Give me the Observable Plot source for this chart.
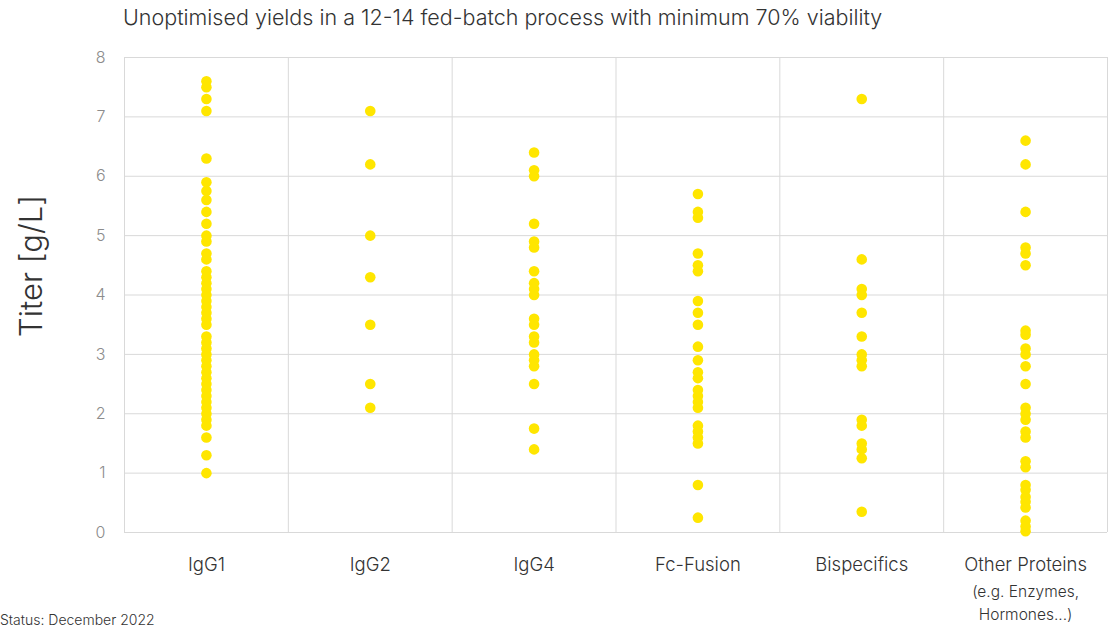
<!DOCTYPE html>
<html>
<head>
<meta charset="utf-8">
<script src="https://cdn.jsdelivr.net/npm/d3@7"></script>
<script src="https://cdn.jsdelivr.net/npm/@observablehq/plot@0.6"></script>
<style>
  html, body { margin: 0; padding: 0; background: #fff; overflow: hidden; }
  body { width: 1114px; height: 630px; position: relative; font-family: Inter, "Noto Sans", sans-serif; font-weight: 300; }
  #title { position: absolute; left: 123px; top: 4px; font-size: 21.5px; color: #333; white-space: nowrap; font-weight: 300; }
  #chart { position: absolute; left: 0; top: 40px; }
  #ylabel { position: absolute; left: 30px; top: 266px; transform: translate(-50%, -50%) rotate(-90deg); font-size: 31px; color: #333; white-space: nowrap; font-weight: 300; }
  #status { position: absolute; left: 0px; top: 611px; font-size: 14px; color: #333; white-space: nowrap; font-weight: 300; }
</style>
</head>
<body>
<div id="title"></div>
<div id="chart"></div>
<div id="ylabel"></div>
<div id="status"></div>
<script>
const titleText = "Unoptimised yields in a 12-14 fed-batch process with minimum 70% viability";
const statusText = "Status: December 2022";
const yLabel = "Titer [g/L]";
const categories = ["IgG1", "IgG2", "IgG4", "Fc-Fusion", "Bispecifics", "Other Proteins"];
const otherNote = "(e.g. Enzymes,\nHormones...)";
const yTicks = [0, 1, 2, 3, 4, 5, 6, 7, 8];

const igg1 = [7.6, 7.5, 7.3, 7.1, 6.3, 5.9, 5.75, 5.6, 5.4, 5.2, 5.0, 4.9, 4.7, 4.6, 4.4, 4.3, 4.2, 4.1, 4.0, 3.9, 3.8, 3.7, 3.6, 3.5, 3.3, 3.2, 3.1, 3.0, 2.9, 2.8, 2.7, 2.6, 2.5, 2.4, 2.3, 2.2, 2.1, 2.0, 1.9, 1.8, 1.6, 1.3, 1.0];
const igg2 = [7.1, 6.2, 5.0, 4.3, 3.5, 2.5, 2.1];
const igg4 = [6.4, 6.1, 6.0, 5.2, 4.9, 4.8, 4.4, 4.2, 4.1, 4.0, 3.6, 3.5, 3.3, 3.2, 3.0, 2.9, 2.8, 2.5, 1.75, 1.4];
const fcFusion = [5.7, 5.4, 5.3, 4.7, 4.5, 4.4, 3.9, 3.7, 3.5, 3.13, 2.9, 2.7, 2.6, 2.4, 2.3, 2.2, 2.1, 1.8, 1.7, 1.6, 1.5, 0.8, 0.25];
const bispecifics = [7.3, 4.6, 4.1, 4.0, 3.7, 3.3, 3.0, 2.9, 2.8, 1.9, 1.8, 1.5, 1.4, 1.25, 0.35];
const otherProteins = [6.6, 6.2, 5.4, 4.8, 4.7, 4.5, 3.4, 3.33, 3.1, 3.0, 2.8, 2.5, 2.1, 2.0, 1.9, 1.7, 1.6, 1.2, 1.1, 0.8, 0.72, 0.6, 0.52, 0.42, 0.2, 0.1, 0.02];

const series = [igg1, igg2, igg4, fcFusion, bispecifics, otherProteins];
const rows = series.flatMap((vals, i) => vals.map(v => ({cat: i, value: v})));

document.getElementById("title").textContent = titleText;
document.getElementById("status").textContent = statusText;
document.getElementById("ylabel").textContent = yLabel;

const grid = "#d9d9d9";
const chart = Plot.plot({
  width: 1114,
  height: 590,
  marginTop: 17,
  marginBottom: 98,
  marginLeft: 124,
  marginRight: 7,
  style: {fontFamily: "Inter, 'Noto Sans', sans-serif", fontWeight: 300, background: "#fff"},
  x: {domain: [0, categories.length], axis: null},
  y: {domain: [0, 8], axis: null},
  marks: [
    Plot.ruleY(yTicks, {y: d => d, stroke: grid, strokeWidth: 1}),
    Plot.ruleX(d3.range(categories.length + 1), {x: d => d, stroke: grid, strokeWidth: 1}),
    Plot.text(yTicks, {x: 0, y: d => d, text: d => String(d), dx: -19, textAnchor: "end", fill: "#8c8c8c", fontSize: 16}),
    Plot.text(categories, {x: (d, i) => i + 0.5, y: 0, text: d => d, dy: 33, fill: "#333", fontSize: 18.5}),
    Plot.text([otherNote], {x: categories.length - 0.5, y: 0, text: d => d, dy: 69, lineHeight: 1.45, fill: "#333", fontSize: 15.5}),
    Plot.dot(rows, {x: d => d.cat + 0.5, y: "value", r: 5.3, fill: "#FFE600", stroke: "none"})
  ]
});
document.getElementById("chart").appendChild(chart);
</script>
</body>
</html>
